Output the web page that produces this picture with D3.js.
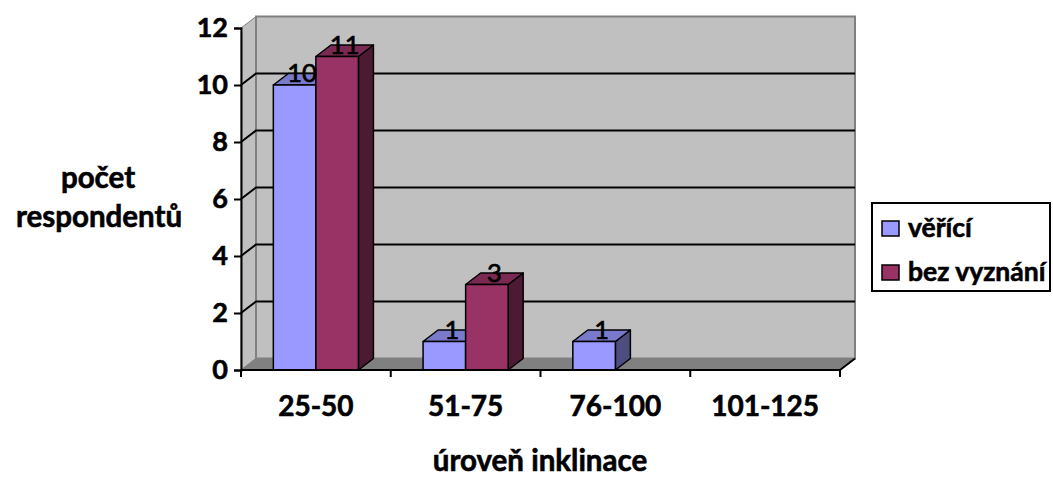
<!DOCTYPE html>
<html>
<head>
<meta charset="utf-8">
<script src="https://cdn.jsdelivr.net/npm/d3@7"></script>
<style>
  html, body { margin: 0; padding: 0; background: #ffffff; }
  svg { display: block; font-family: Lato, "Open Sans", sans-serif; }
  .heavy { stroke: #000; stroke-width: 0.6px; paint-order: stroke; }
</style>
</head>
<body>
<svg id="chart" width="1053" height="477"></svg>
<script>
// Categories (inclination level) and the two respondent groups
const categories = ["25-50", "51-75", "76-100", "101-125"];
const seriesNames = ["věřící", "bez vyznání"];
const veriValues = [10, 1, 1, 0];
const bezVyznaniValues = [11, 3, 0, 0];
const yTicks = [0, 2, 4, 6, 8, 10, 12];

const seriesValues = [veriValues, bezVyznaniValues];
const faceColors = [
  { front: "#9999ff", top: "#7a7acc", side: "#4d4d80" },
  { front: "#993366", top: "#7a2952", side: "#4d1a33" }
];

const svg = d3.select("#chart");

// 3D depth offset of the plot box
const dX = 15, dY = -11.5;
const plotLeft = 241, plotRight = 840, plotBottom = 370, plotTop = 28;

const x0 = d3.scaleBand().domain(categories).range([plotLeft, plotRight]).padding(0);
const x1 = d3.scaleBand().domain(d3.range(seriesNames.length))
  .range([0, x0.bandwidth()]).paddingInner(0).paddingOuter(0.76);
const y = d3.scaleLinear().domain([0, 12]).range([plotBottom, plotTop]);

const pts = a => a.map(p => p.join(",")).join(" ");

// Side wall (left)
svg.append("polygon")
  .attr("points", pts([[plotLeft, y(0)], [plotLeft, y(12)], [plotLeft + dX, y(12) + dY], [plotLeft + dX, y(0) + dY]]))
  .attr("fill", "#c0c0c0").attr("stroke", "#808080").attr("stroke-width", 1);

// Back wall
svg.append("rect")
  .attr("x", plotLeft + dX).attr("y", y(12) + dY)
  .attr("width", plotRight - plotLeft).attr("height", y(0) - y(12))
  .attr("fill", "#c0c0c0").attr("stroke", "#808080").attr("stroke-width", 2);

// Floor
svg.append("polygon")
  .attr("points", pts([[plotLeft, y(0)], [plotRight, y(0)], [plotRight + dX, y(0) + dY], [plotLeft + dX, y(0) + dY]]))
  .attr("fill", "#808080").attr("stroke", "#808080").attr("stroke-width", 1);

// Gridlines on back and side wall
const grid = svg.append("g").attr("stroke", "#000").attr("stroke-width", 2).attr("fill", "none");
yTicks.filter(v => v > 0 && v < 12).forEach(v => {
  grid.append("polyline")
    .attr("points", pts([[plotLeft, y(v)], [plotLeft + dX, y(v) + dY], [plotRight + dX, y(v) + dY]]));
});

// Bars: front face, top and right side
const bars = svg.append("g").attr("stroke", "#000").attr("stroke-width", 1.5).attr("stroke-linejoin", "round");
categories.forEach((c, ci) => {
  seriesValues.forEach((vals, si) => {
    const v = vals[ci];
    if (!v) return;
    const bx = x0(c) + x1(si), bw = x1.bandwidth();
    const yT = y(v), yB = y(0);
    const col = faceColors[si];
    bars.append("polygon")
      .attr("points", pts([[bx + bw, yT], [bx + bw + dX, yT + dY], [bx + bw + dX, yB + dY], [bx + bw, yB]]))
      .attr("fill", col.side);
    bars.append("polygon")
      .attr("points", pts([[bx, yT], [bx + dX, yT + dY], [bx + bw + dX, yT + dY], [bx + bw, yT]]))
      .attr("fill", col.top);
    bars.append("rect")
      .attr("x", bx).attr("y", yT).attr("width", bw).attr("height", yB - yT)
      .attr("fill", col.front);
  });
});

// Value labels
const labels = svg.append("g").attr("font-size", 25.5).attr("text-anchor", "middle").attr("fill", "#000")
  .attr("stroke", "#000").attr("stroke-width", 0.7);
categories.forEach((c, ci) => {
  seriesValues.forEach((vals, si) => {
    const v = vals[ci];
    if (!v) return;
    const bx = x0(c) + x1(si), bw = x1.bandwidth();
    labels.append("text")
      .attr("x", bx + bw / 2 + dX / 2)
      .attr("y", y(v) - 3)
      .text(v);
  });
});

// Y axis
const yAxis = svg.append("g").attr("transform", `translate(${plotLeft},0)`)
  .call(d3.axisLeft(y).tickValues(yTicks).tickSize(7).tickPadding(6).tickFormat(d3.format("d")));
yAxis.select(".domain").attr("stroke", "#000").attr("stroke-width", 2);
yAxis.selectAll(".tick line").attr("stroke", "#000").attr("stroke-width", 2);
yAxis.selectAll(".tick text").attr("font-size", 27).attr("font-weight", "bold")
  .attr("font-family", "Lato, sans-serif").attr("fill", "#000").attr("class", "heavy");

// X axis with ticks at category boundaries
const xAxis = svg.append("g").attr("transform", `translate(0,${plotBottom})`);
xAxis.append("line").attr("x1", plotLeft).attr("x2", plotRight).attr("y1", 0).attr("y2", 0)
  .attr("stroke", "#000").attr("stroke-width", 2);
xAxis.append("line").attr("x1", plotRight).attr("y1", 0).attr("x2", plotRight + dX).attr("y2", dY)
  .attr("stroke", "#000").attr("stroke-width", 2);
const bounds = categories.map(c => x0(c)).concat([plotRight]);
xAxis.selectAll("line.tk").data(bounds).join("line").attr("class", "tk")
  .attr("x1", d => d).attr("x2", d => d).attr("y1", 0).attr("y2", 7)
  .attr("stroke", "#000").attr("stroke-width", 2);
xAxis.selectAll("text").data(categories).join("text")
  .attr("class", "heavy")
  .attr("x", d => x0(d) + x0.bandwidth() / 2).attr("y", 46)
  .attr("text-anchor", "middle").attr("font-size", 28).attr("font-weight", "bold")
  .text(d => d);

// Axis titles
svg.append("text").attr("class", "heavy").attr("x", 540).attr("y", 471).attr("text-anchor", "middle")
  .attr("font-size", 29.5).attr("font-weight", "bold").text("úroveň inklinace");
const yTitle = svg.append("text").attr("class", "heavy").attr("text-anchor", "middle")
  .attr("font-size", 29.5).attr("font-weight", "bold");
yTitle.append("tspan").attr("x", 98).attr("y", 188).text("počet");
yTitle.append("tspan").attr("x", 99).attr("y", 227).text("respondentů");

// Legend
const legend = svg.append("g");
legend.append("rect").attr("x", 872).attr("y", 203).attr("width", 178).attr("height", 88)
  .attr("fill", "#fff").attr("stroke", "#000").attr("stroke-width", 2);
seriesNames.forEach((name, i) => {
  const base = 237 + i * 44;
  legend.append("rect").attr("x", 882).attr("y", base - 16).attr("width", 17).attr("height", 15)
    .attr("fill", faceColors[i].front).attr("stroke", "#000").attr("stroke-width", 1.5);
  legend.append("text").attr("class", "heavy").attr("x", 908).attr("y", base)
    .attr("font-size", 26.5).attr("font-weight", "bold").text(name);
});
</script>
</body>
</html>
